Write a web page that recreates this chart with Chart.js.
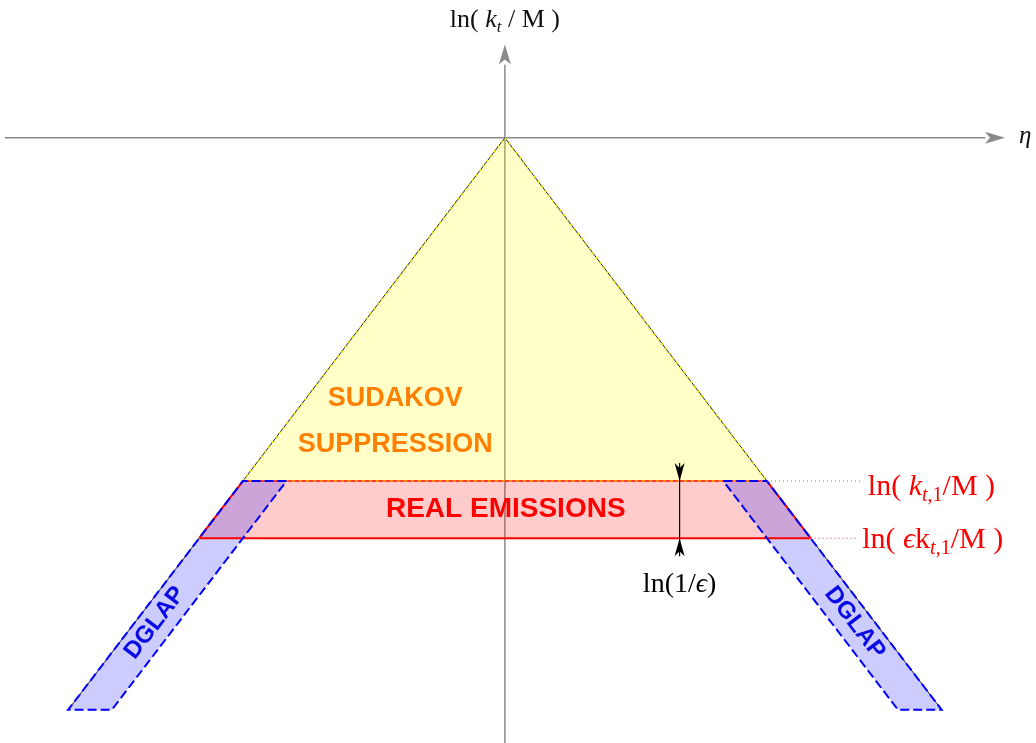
<!DOCTYPE html>
<html>
<head>
<meta charset="utf-8">
<script src="https://cdn.jsdelivr.net/npm/chart.js@4"></script>
<style>
  html, body { margin: 0; padding: 0; background: #fff; }
  #wrap { width: 1036px; height: 743px; }
</style>
</head>
<body>
<div id="wrap"><canvas id="lund"></canvas></div>
<script>
// Plane coordinates: eta across, ln(kt/M) up. Apex of the triangle sits at the origin.
const etaRange = [-11.56, 12.16];
const lnRange = [-10.58, 2.41];

const xAxisEta = [-11.45, 11.0];
const yAxisLn = [-10.58, 1.28];

// Sudakov suppression region
const sudakovEta = [-6, 0, 6];
const sudakovLn = [-6, 0, -6];

// real emission band between ln(kt1/M) and ln(eps kt1/M)
const ktLevel = -6;
const epsKtLevel = -7;
const realEta = [-6, 6, 7, -7];
const realLn = [-6, -6, -7, -7];

// DGLAP strips along the collinear edges
const dglapLeftEta = [-5, -6, -10, -9, -5];
const dglapRightEta = [5, 6, 10, 9, 5];
const dglapLn = [-6, -6, -10, -10, -6];

// collinear edge lines
const edgeEta = [-10, 0, 10];
const edgeLn = [-10, 0, -10];

const pts = (xs, ys) => xs.map((x, i) => ({ x, y: ys[i] }));

const datasets = [
  // axes
  { data: pts(xAxisEta, [0, 0]), borderColor: '#8a8a8a', borderWidth: 1.5 },
  { data: pts([0, 0], yAxisLn), borderColor: '#8a8a8a', borderWidth: 1.5 },
  // fills
  { data: pts(sudakovEta, sudakovLn), borderWidth: 0, fill: 'shape', backgroundColor: 'rgba(255,255,0,0.22)' },
  { data: pts(realEta, realLn), borderWidth: 0, fill: 'shape', backgroundColor: 'rgba(255,0,0,0.2)' },
  { data: pts(dglapLeftEta, dglapLn), borderWidth: 0, fill: 'shape', backgroundColor: 'rgba(0,0,255,0.2)' },
  { data: pts(dglapRightEta, dglapLn), borderWidth: 0, fill: 'shape', backgroundColor: 'rgba(0,0,255,0.2)' },
  // collinear edges
  { data: pts(edgeEta, edgeLn), borderColor: '#222', borderWidth: 1 },
  { data: pts(sudakovEta, sudakovLn), borderColor: '#e6e600', borderWidth: 2, borderDash: [2, 4] },
  // real emission band outline
  { data: pts([-6, 6], [ktLevel, ktLevel]), borderColor: '#ff0000', borderWidth: 1.5 },
  { data: pts([-6, 6], [ktLevel, ktLevel]), borderColor: '#ffb000', borderWidth: 1.5, borderDash: [3, 4] },
  { data: pts([-7, 7], [epsKtLevel, epsKtLevel]), borderColor: '#ff0000', borderWidth: 2 },
  { data: pts([-6, -7], [ktLevel, epsKtLevel]), borderColor: '#ff0000', borderWidth: 2 },
  { data: pts([6, 7], [ktLevel, epsKtLevel]), borderColor: '#ff0000', borderWidth: 2 },
  // DGLAP outlines
  { data: pts(dglapLeftEta, dglapLn), borderColor: '#0000ff', borderWidth: 2, borderDash: [9, 4] },
  { data: pts(dglapRightEta, dglapLn), borderColor: '#0000ff', borderWidth: 2, borderDash: [9, 4] },
  // guide lines to the labels
  { data: pts([6, 8.15], [ktLevel, ktLevel]), borderColor: '#ff3030', borderWidth: 1, borderDash: [1, 3] },
  { data: pts([7, 8.05], [epsKtLevel, epsKtLevel]), borderColor: '#ff3030', borderWidth: 1, borderDash: [1, 3] }
].map((d, i) => Object.assign({ order: -i, pointRadius: 0, fill: false, tension: 0 }, d));

const serif = '"Liberation Serif", "DejaVu Serif", serif';
const sans = '"Liberation Sans", Arial, sans-serif';

// draw a row of text pieces with their own font and vertical shift
function drawRuns(ctx, x, y, runs, align) {
  let w = 0;
  runs.forEach(r => { ctx.font = r.font; w += ctx.measureText(r.t).width; });
  let cx = align === 'center' ? x - w / 2 : x;
  ctx.textAlign = 'left';
  ctx.textBaseline = 'alphabetic';
  runs.forEach(r => {
    ctx.font = r.font;
    ctx.fillText(r.t, cx, y + (r.dy || 0));
    cx += ctx.measureText(r.t).width;
  });
}

function arrowHead(ctx, tx, ty, dir, len, half) {
  // dir: +1 points down, -1 points up
  ctx.beginPath();
  ctx.moveTo(tx, ty);
  ctx.lineTo(tx - half, ty - dir * len);
  ctx.lineTo(tx, ty - dir * len * 0.72);
  ctx.lineTo(tx + half, ty - dir * len);
  ctx.closePath();
  ctx.fill();
}

const annotations = {
  id: 'annotations',
  afterDatasetsDraw(chart) {
    const { ctx, scales: { x, y } } = chart;
    const px = v => x.getPixelForValue(v);
    const py = v => y.getPixelForValue(v);
    ctx.save();

    // axis arrows
    ctx.fillStyle = '#8a8a8a';
    let tx = px(11.45), ty = py(0);
    ctx.beginPath();
    ctx.moveTo(tx, ty);
    ctx.lineTo(tx - 20, ty - 6);
    ctx.lineTo(tx - 15, ty);
    ctx.lineTo(tx - 20, ty + 6);
    ctx.closePath();
    ctx.fill();
    tx = px(0); ty = py(1.63);
    ctx.beginPath();
    ctx.moveTo(tx, ty);
    ctx.lineTo(tx - 6, ty + 20);
    ctx.lineTo(tx, ty + 15);
    ctx.lineTo(tx + 6, ty + 20);
    ctx.closePath();
    ctx.fill();

    // axis titles
    ctx.fillStyle = '#111';
    drawRuns(ctx, px(0), 27, [
      { t: 'ln( ', font: '26px ' + serif },
      { t: 'k', font: 'italic 26px ' + serif },
      { t: 't', font: 'italic 17px ' + serif, dy: 5 },
      { t: ' / M )', font: '26px ' + serif }
    ], 'center');
    drawRuns(ctx, 1019, 143, [{ t: 'η', font: 'italic 25px ' + serif }], 'left');

    // ln(1/eps) arrow
    const ax = px(4);
    ctx.strokeStyle = '#000';
    ctx.lineWidth = 1.2;
    ctx.beginPath();
    ctx.moveTo(ax, py(ktLevel) - 18);
    ctx.lineTo(ax, py(epsKtLevel) + 18);
    ctx.stroke();
    ctx.fillStyle = '#000';
    arrowHead(ctx, ax, py(ktLevel), 1, 18, 5);
    arrowHead(ctx, ax, py(epsKtLevel), -1, 18, 5);
    drawRuns(ctx, ax, py(epsKtLevel) + 54, [
      { t: 'ln(1/', font: '28px ' + serif },
      { t: 'ϵ', font: 'italic 28px ' + serif },
      { t: ')', font: '28px ' + serif }
    ], 'center');

    // level labels
    ctx.fillStyle = '#ff0000';
    drawRuns(ctx, px(8.31), py(ktLevel) + 14, [
      { t: 'ln( ', font: '30px ' + serif },
      { t: 'k', font: 'italic 30px ' + serif },
      { t: 't', font: 'italic 20px ' + serif, dy: 6 },
      { t: ',1', font: '20px ' + serif, dy: 6 },
      { t: '/M )', font: '30px ' + serif }
    ], 'left');
    drawRuns(ctx, px(8.18), py(epsKtLevel) + 10, [
      { t: 'ln( ', font: '30px ' + serif },
      { t: 'ϵ', font: 'italic 30px ' + serif },
      { t: 'k', font: '30px ' + serif },
      { t: 't', font: 'italic 20px ' + serif, dy: 6 },
      { t: ',1', font: '20px ' + serif, dy: 6 },
      { t: '/M )', font: '30px ' + serif }
    ], 'left');

    // region names
    ctx.textAlign = 'center';
    ctx.textBaseline = 'middle';
    ctx.fillStyle = '#ff8000';
    ctx.font = 'bold 27px ' + sans;
    ctx.fillText('SUDAKOV', px(-2.51), py(-4.55));
    ctx.fillText('SUPPRESSION', px(-2.51), py(-5.37));
    ctx.fillStyle = '#ff0000';
    ctx.font = 'bold 28px ' + sans;
    ctx.fillText('REAL EMISSIONS', px(0.02), py(-6.5));

    ctx.fillStyle = '#0a0ae6';
    ctx.font = 'bold 24px ' + sans;
    const up = Math.atan2(py(-6) - py(-10), px(-6) - px(-10));
    ctx.save();
    ctx.translate(px(-8.01), py(-8.48));
    ctx.rotate(up);
    ctx.fillText('DGLAP', 0, 0);
    ctx.restore();
    const down = Math.atan2(py(-10) - py(-6), px(10) - px(6));
    ctx.save();
    ctx.translate(px(8.01), py(-8.48));
    ctx.rotate(down);
    ctx.fillText('DGLAP', 0, 0);
    ctx.restore();

    ctx.restore();
  }
};

new Chart(document.getElementById('lund'), {
  type: 'line',
  data: { datasets },
  options: {
    responsive: true,
    maintainAspectRatio: false,
    animation: false,
    layout: { padding: 0 },
    scales: {
      x: { type: 'linear', min: etaRange[0], max: etaRange[1], display: false },
      y: { type: 'linear', min: lnRange[0], max: lnRange[1], display: false }
    },
    plugins: { legend: { display: false }, tooltip: { enabled: false } }
  },
  plugins: [annotations]
});
</script>
</body>
</html>
